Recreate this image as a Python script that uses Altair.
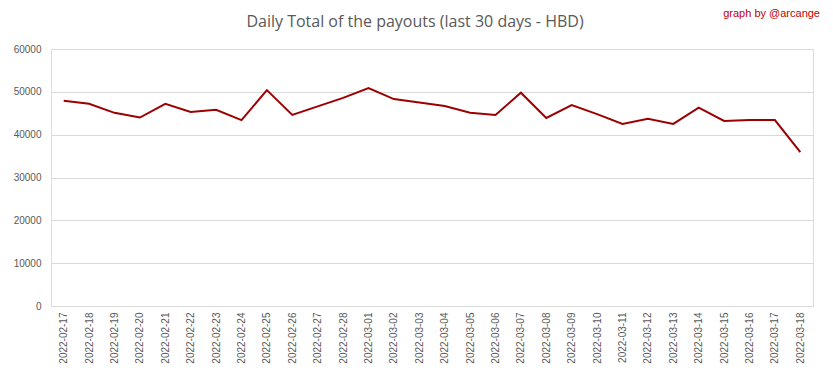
import altair as alt
import pandas as pd

dates = [
    "2022-02-17", "2022-02-18", "2022-02-19", "2022-02-20", "2022-02-21",
    "2022-02-22", "2022-02-23", "2022-02-24", "2022-02-25", "2022-02-26",
    "2022-02-27", "2022-02-28", "2022-03-01", "2022-03-02", "2022-03-03",
    "2022-03-04", "2022-03-05", "2022-03-06", "2022-03-07", "2022-03-08",
    "2022-03-09", "2022-03-10", "2022-03-11", "2022-03-12", "2022-03-13",
    "2022-03-14", "2022-03-15", "2022-03-16", "2022-03-17", "2022-03-18",
]
payouts = [
    47900, 47200, 45100, 44000, 47200,
    45300, 45800, 43400, 50400, 44600,
    46600, 48600, 50900, 48300, 47500,
    46700, 45100, 44600, 49800, 43900,
    46900, 44800, 42500, 43700, 42500,
    46300, 43200, 43400, 43400, 35900,
]
y_ticks = [0, 10000, 20000, 30000, 40000, 50000, 60000]
title_text = "Daily Total of the payouts (last 30 days - HBD)"
credit_text = "graph by @arcange"

df = pd.DataFrame({"date": dates, "value": payouts})

grey = "#595959"

line = alt.Chart(df).mark_line(color="#9c0000", strokeWidth=2).encode(
    x=alt.X("date:N", sort=dates, title=None,
            scale=alt.Scale(paddingOuter=0.5, paddingInner=0),
            axis=alt.Axis(labelAngle=-90, labelFontSize=10, labelColor=grey,
                          labelFont="Liberation Sans", ticks=False,
                          domainColor="#d9d9d9", labelPadding=6)),
    y=alt.Y("value:Q", title=None,
            scale=alt.Scale(domain=[0, 60000], nice=False),
            axis=alt.Axis(values=y_ticks, format="d", labelFontSize=10,
                          labelColor=grey, labelFont="Liberation Sans",
                          ticks=False, domain=False,
                          gridColor="#d9d9d9", labelPadding=10)),
)

title = alt.Chart(pd.DataFrame({"t": [title_text]})).mark_text(
    align="center", baseline="middle", fontSize=16, color=grey,
    font="Open Sans"
).encode(x=alt.value(364), y=alt.value(-27), text="t:N")

credit = alt.Chart(pd.DataFrame({"t": [credit_text]})).mark_text(
    align="right", baseline="middle", fontSize=11, color="#c00000",
    font="Liberation Sans"
).encode(x=alt.value(769), y=alt.value(-35), text="t:N")

chart = alt.layer(line, title, credit).properties(
    width=762, height=257,
    padding={"left": 43, "top": 41, "right": 12, "bottom": 65},
    autosize=alt.AutoSizeParams(type="none"),
).configure_view(strokeWidth=0).configure(background="white")

chart.save("out.html", embed_options={"renderer": "svg", "actions": False})
